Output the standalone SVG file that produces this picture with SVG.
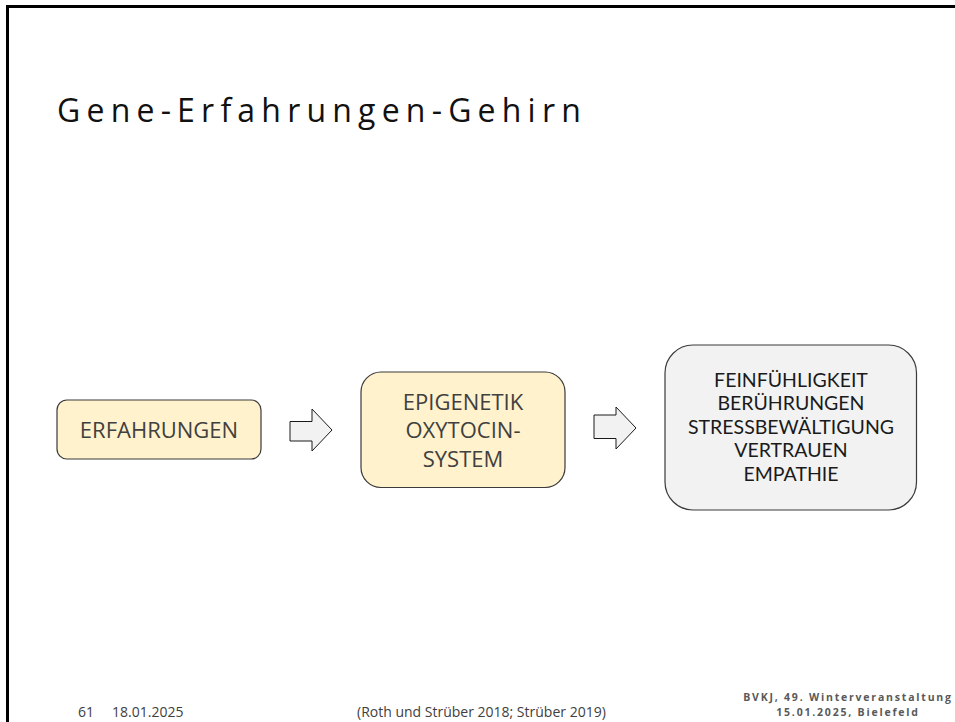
<svg xmlns="http://www.w3.org/2000/svg" width="955" height="722" viewBox="0 0 955 722">
  <style>
    .frame { fill: none; stroke: #000; stroke-width: 3; }
    .title { font-family: "Open Sans", "Noto Sans", sans-serif; font-size: 32px; letter-spacing: 6.2px; fill: #111; }
    .warm { fill: #FFF2CC; stroke: #3a3a3a; stroke-width: 1.2; }
    .cool { fill: #F2F2F2; stroke: #3a3a3a; stroke-width: 1.2; }
    .arrow { fill: #F2F2F2; stroke: #1a1a1a; stroke-width: 1; }
    .lbl { font-family: "Open Sans", "Noto Sans", sans-serif; font-size: 22px; fill: #404040; text-anchor: middle; }
    .lbl2 { font-family: Lato, "Open Sans", sans-serif; font-size: 19.5px; fill: #1a1a1a; text-anchor: middle; }
    .foot { font-family: "Open Sans", "Noto Sans", sans-serif; font-size: 14px; fill: #404040; }
    .foot-r { font-family: "Open Sans", "Noto Sans", sans-serif; font-size: 10.5px; font-weight: bold; letter-spacing: 1.8px; fill: #595959; text-anchor: middle; }
  </style>

  <rect width="955" height="722" fill="#fff"/>
  <path class="frame" d="M7.5,722 V6.5 H955"/>

  <text class="title" x="57" y="122">Gene-Erfahrungen-Gehirn</text>

  <g id="node-erfahrungen">
    <rect class="warm" x="57" y="400" width="204" height="59" rx="10"/>
    <text class="lbl" x="159" y="438">ERFAHRUNGEN</text>
  </g>

  <g id="node-epigenetik">
    <rect class="warm" x="361" y="372" width="204" height="115.5" rx="20"/>
    <text class="lbl" x="463" y="410">EPIGENETIK</text>
    <text class="lbl" x="463" y="438">OXYTOCIN-</text>
    <text class="lbl" x="463" y="466.5">SYSTEM</text>
  </g>

  <g id="node-wirkungen">
    <rect class="cool" x="665" y="345" width="251.5" height="165" rx="28"/>
    <text class="lbl2" x="791" y="386.5">FEINFÜHLIGKEIT</text>
    <text class="lbl2" x="791" y="410">BERÜHRUNGEN</text>
    <text class="lbl2" x="791" y="433.5">STRESSBEWÄLTIGUNG</text>
    <text class="lbl2" x="791" y="457">VERTRAUEN</text>
    <text class="lbl2" x="791" y="480.5">EMPATHIE</text>
  </g>

  <g id="connectors">
    <polygon class="arrow" points="290,421.5 312,421.5 312,409 332,430 312,451 312,441 290,441"/>
    <polygon class="arrow" points="594,415 616,415 616,407 636,428 616,449 616,438.5 594,438.5"/>
  </g>

  <g id="footer">
    <text class="foot" x="78" y="717">61</text>
    <text class="foot" x="112" y="717">18.01.2025</text>
    <text class="foot" x="357" y="717">(Roth und Strüber 2018; Strüber 2019)</text>
    <text class="foot-r" x="848" y="701">BVKJ, 49. Winterveranstaltung</text>
    <text class="foot-r" x="848" y="716">15.01.2025, Bielefeld</text>
  </g>
</svg>
